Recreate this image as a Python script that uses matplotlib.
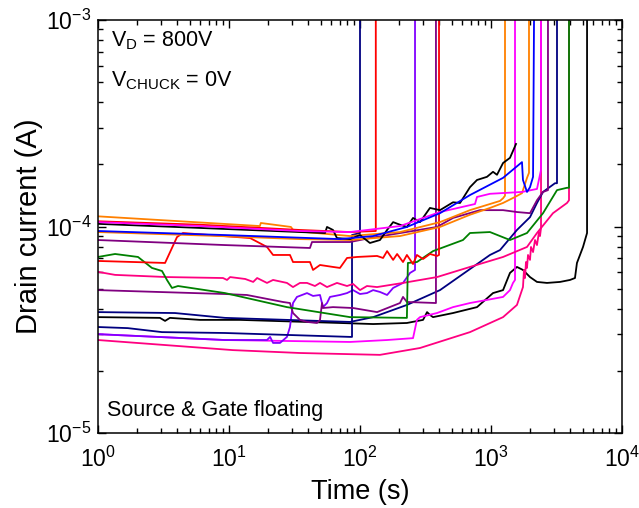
import matplotlib
matplotlib.use("Agg")
import matplotlib.pyplot as plt
from matplotlib.ticker import LogLocator, NullFormatter, LogFormatterSciNotation

plt.rcParams["font.family"] = ["Liberation Sans", "DejaVu Sans"]
plt.rcParams["mathtext.fontset"] = "custom"
plt.rcParams["mathtext.rm"] = "Liberation Sans"
plt.rcParams["mathtext.it"] = "Liberation Sans:italic"
plt.rcParams["mathtext.bf"] = "Liberation Sans:bold"

# ---- drain current traces (time in s, current in A); last point = breakdown ----
orange_a_t = [1, 17.2, 17.5, 29.7, 31.3, 83.9, 202, 408, 691, 1172, 1236, 1279, 1279]
orange_a_i = [1.12e-4, 1.005e-4, 1.04e-4, 9.95e-5, 9.51e-5, 8.99e-5, 9.40e-5, 1.05e-4,
              1.20e-4, 1.33e-4, 1.37e-4, 1.41e-4, 1e-3]

orange_b_t = [1, 8.53, 34.8, 83.9, 202, 408, 691, 982, 1236, 1525, 1724, 1883, 1950, 1950]
orange_b_i = [9.40e-5, 8.99e-5, 8.69e-5, 8.60e-5, 8.99e-5, 9.95e-5, 1.14e-4, 1.23e-4,
              1.30e-4, 1.39e-4, 1.45e-4, 1.72e-4, 1.82e-4, 1e-3]

red_top_t = [1, 6.01, 34.8, 83.9, 132, 132]
red_top_i = [1.06e-4, 1.02e-4, 9.62e-5, 9.40e-5, 9.51e-5, 1e-3]

magenta_top_t = [1, 6.01, 34.8, 83.9, 202, 408, 755, 782, 982, 1724, 2244, 2409, 2409]
magenta_top_i = [1.05e-4, 1.005e-4, 9.51e-5, 9.40e-5, 1.005e-4, 1.175e-4, 1.285e-4,
                 1.39e-4, 1.44e-4, 1.47e-4, 1.52e-4, 1.88e-4, 1e-3]

black_top_t = [1, 6.01, 34.8, 54.1, 56.0, 62.2, 66.7, 83.9, 100, 119, 142, 161, 179, 202,
               228, 254, 287, 342, 408, 513, 580, 691, 782, 932, 1036, 1111, 1236, 1396, 1552]
black_top_i = [1.03e-4, 9.84e-5, 9.40e-5, 9.30e-5, 9.95e-5, 9.62e-5, 8.79e-5, 8.69e-5,
               9.09e-5, 8.32e-5, 8.60e-5, 9.62e-5, 1.05e-4, 1.02e-4, 9.95e-5, 1.10e-4,
               1.05e-4, 1.23e-4, 1.20e-4, 1.31e-4, 1.30e-4, 1.55e-4, 1.68e-4, 1.74e-4,
               1.84e-4, 1.78e-4, 2.03e-4, 2.15e-4, 2.51e-4]

blue_t = [1, 9.32, 41.5, 70.3, 126, 228, 408, 691, 1236, 1724, 1754, 1883, 1985, 2094, 2130]
blue_i = [9.51e-5, 9.09e-5, 8.79e-5, 8.69e-5, 8.99e-5, 9.95e-5, 1.16e-4, 1.42e-4, 1.72e-4,
          2.05e-4, 1.68e-4, 1.47e-4, 1.55e-4, 1.74e-4, 1e-3]

purple_a_t = [1, 9.32, 41.5, 43.0, 83.9, 119, 387, 513, 824, 1236, 1578, 1985, 2244, 2495,
              2722, 2722]
purple_a_i = [8.60e-5, 8.13e-5, 7.87e-5, 8.41e-5, 8.41e-5, 8.79e-5, 9.95e-5, 1.10e-4,
              1.20e-4, 1.20e-4, 1.175e-4, 1.16e-4, 1.34e-4, 1.47e-4, 1.50e-4, 1e-3]

red_low_t = [1, 3.25, 4.01, 4.45, 14.5, 19.5, 21.7, 29.2, 30.8, 41.5, 43.8, 49.5, 62.2, 70.3,
             79.6, 94.9, 135, 150, 161, 179, 192, 213, 228, 254, 272, 303, 342, 387, 401, 401]
red_low_i = [6.81e-5, 6.66e-5, 8.89e-5, 9.30e-5, 8.79e-5, 7.96e-5, 7.28e-5, 7.28e-5,
             6.73e-5, 6.73e-5, 6.16e-5, 6.51e-5, 6.37e-5, 6.30e-5, 7.04e-5, 7.12e-5,
             7.20e-5, 7.04e-5, 7.60e-5, 6.89e-5, 7.36e-5, 6.73e-5, 7.28e-5, 6.58e-5,
             7.28e-5, 6.96e-5, 7.36e-5, 7.20e-5, 7.28e-5, 1e-3]

green_t = [1, 1.35, 2.02, 2.58, 3.08, 3.36, 3.67, 4.08, 9.32, 27.7, 83.9, 228, 232, 272,
           361, 611, 691, 982, 1396, 1883, 2495, 3190, 3803, 3940, 3940]
green_i = [7.12e-5, 7.36e-5, 7.12e-5, 6.30e-5, 6.09e-5, 5.51e-5, 5.04e-5, 5.15e-5,
           4.76e-5, 4.07e-5, 3.64e-5, 3.61e-5, 6.66e-5, 6.73e-5, 7.60e-5, 8.60e-5,
           9.30e-5, 9.40e-5, 8.60e-5, 9.30e-5, 1.16e-4, 1.50e-4, 1.54e-4, 1.54e-4, 1e-3]

pink_a_t = [1, 1.35, 3.36, 9.0, 9.66, 10.2, 13.3, 15.3, 16.4, 19.5, 21.7, 27.7, 30.8, 34.8,
            39.4, 45.3, 49.5, 56.0, 66.7, 79.6, 88.5, 100, 113, 135, 213, 387, 691, 1236,
            1883, 2244, 2972, 3803, 3940, 3940]
pink_a_i = [6.03e-5, 5.83e-5, 5.69e-5, 5.63e-5, 5.51e-5, 5.69e-5, 5.57e-5, 5.39e-5,
            5.63e-5, 5.33e-5, 5.51e-5, 5.33e-5, 5.09e-5, 5.33e-5, 5.33e-5, 5.15e-5,
            5.33e-5, 5.09e-5, 5.33e-5, 5.15e-5, 5.27e-5, 4.92e-5, 5.15e-5, 5.09e-5,
            5.33e-5, 5.69e-5, 6.37e-5, 7.12e-5, 7.96e-5, 9.30e-5, 1.16e-4, 1.30e-4,
            1.34e-4, 1e-3]

purple_b_t = [1, 9.32, 13.7, 25.8, 29.2, 30.8, 34.8, 39.4, 47.0, 49.5, 51.3, 52.2, 62.2,
              88.5, 135, 202, 213, 228, 380, 380]
purple_b_i = [4.92e-5, 4.71e-5, 4.66e-5, 4.31e-5, 4.26e-5, 3.81e-5, 3.53e-5, 3.45e-5,
              3.41e-5, 3.53e-5, 4.26e-5, 4.03e-5, 4.07e-5, 4.03e-5, 3.85e-5, 4.26e-5,
              4.56e-5, 4.31e-5, 4.26e-5, 1e-3]

violet_t = [1, 9.32, 19.5, 20.6, 21.7, 24.5, 27.7, 29.2, 30.8, 33.0, 39.4, 43.8, 49.5, 52.2,
            56.0, 59.0, 70.3, 79.6, 88.5, 100, 113, 126, 142, 161, 179, 213, 241, 263, 263]
violet_i = [3.01e-5, 2.82e-5, 2.82e-5, 2.92e-5, 2.73e-5, 2.73e-5, 2.92e-5, 3.26e-5,
            4.26e-5, 4.56e-5, 4.76e-5, 4.61e-5, 4.66e-5, 4.07e-5, 4.26e-5, 4.56e-5,
            4.66e-5, 4.76e-5, 4.92e-5, 4.71e-5, 4.76e-5, 4.92e-5, 4.82e-5, 4.66e-5,
            5.04e-5, 5.33e-5, 5.96e-5, 6.16e-5, 1e-3]

magenta_low_t = [1, 9.32, 83.9, 161, 254, 272, 287, 387, 513, 691, 932, 1236, 1396, 1472,
                 1525, 1525]
magenta_low_i = [3.01e-5, 2.82e-5, 2.76e-5, 2.82e-5, 2.88e-5, 3.53e-5, 3.64e-5, 3.81e-5,
                 4.07e-5, 4.26e-5, 4.41e-5, 4.56e-5, 4.92e-5, 5.33e-5, 5.51e-5, 1e-3]

pink_b_t = [1, 10.7, 34.8, 142, 287, 691, 1236, 1578, 1754, 1786, 1818, 1849, 1883, 1916,
            1985, 2019, 2094, 2168, 2244, 2323, 2366, 2409, 2409]
pink_b_i = [2.82e-5, 2.52e-5, 2.44e-5, 2.39e-5, 2.58e-5, 3.08e-5, 3.64e-5, 4.17e-5,
            5.09e-5, 6.16e-5, 5.63e-5, 6.73e-5, 6.30e-5, 7.28e-5, 6.89e-5, 7.96e-5,
            7.52e-5, 8.60e-5, 8.13e-5, 9.40e-5, 8.99e-5, 9.84e-5, 1e-3]

navy_b_t = [1, 3.87, 9.32, 83.9, 126, 228, 408, 824, 982, 1172, 1578, 1985, 2244, 2495,
            3080, 3190, 3190]
navy_b_i = [3.85e-5, 3.81e-5, 3.61e-5, 3.45e-5, 3.64e-5, 4.17e-5, 4.92e-5, 6.73e-5,
            7.28e-5, 7.69e-5, 9.62e-5, 1.11e-4, 1.30e-4, 1.47e-4, 1.62e-4, 1.62e-4, 1e-3]

navy_c_t = [1, 1.69, 3.08, 9.32, 83.9, 86.9, 86.9, 100, 100]
navy_c_i = [3.26e-5, 3.22e-5, 3.08e-5, 3.05e-5, 2.92e-5, 2.92e-5, 9.09e-5, 9.30e-5, 1e-3]

black_low_t = [1, 2.97, 3.25, 3.54, 6.01, 12.1, 70.3, 126, 228, 303, 325, 342, 361, 513,
               782, 1036, 1236, 1396, 1578, 1754, 1985, 2244, 2675, 3365, 4010, 4375,
               4530, 5040, 5410, 5410]
black_low_i = [3.64e-5, 3.61e-5, 3.49e-5, 3.61e-5, 3.53e-5, 3.53e-5, 3.41e-5, 3.37e-5,
               3.41e-5, 3.53e-5, 3.85e-5, 3.73e-5, 3.64e-5, 3.81e-5, 4.07e-5, 4.76e-5,
               4.92e-5, 5.96e-5, 6.37e-5, 6.16e-5, 5.69e-5, 5.39e-5, 5.33e-5, 5.39e-5,
               5.51e-5, 5.63e-5, 6.66e-5, 7.96e-5, 9.30e-5, 1e-3]

traces = [
    (black_low_t, black_low_i, "#000000"),
    (pink_b_t, pink_b_i, "#FF0080"),
    (magenta_low_t, magenta_low_i, "#FF00FF"),
    (violet_t, violet_i, "#8000FF"),
    (navy_c_t, navy_c_i, "#000080"),
    (navy_b_t, navy_b_i, "#000080"),
    (purple_b_t, purple_b_i, "#800080"),
    (pink_a_t, pink_a_i, "#FF0080"),
    (green_t, green_i, "#008000"),
    (red_low_t, red_low_i, "#FF0000"),
    (purple_a_t, purple_a_i, "#800080"),
    (orange_b_t, orange_b_i, "#FF8000"),
    (orange_a_t, orange_a_i, "#FF8000"),
    (black_top_t, black_top_i, "#000000"),
    (red_top_t, red_top_i, "#FF0000"),
    (magenta_top_t, magenta_top_i, "#FF00FF"),
    (blue_t, blue_i, "#0000FF"),
]

fig = plt.figure(figsize=(6.39, 5.08), dpi=100)
ax = fig.add_axes([98 / 639, 75 / 508, 524 / 639, 413 / 508])

for t, i, c in traces:
    ax.plot(t, i, color=c, lw=1.3)

ax.set_xscale("log")
ax.set_yscale("log")
ax.set_xlim(1, 1e4)
ax.set_ylim(1e-5, 1e-3)

for axis in (ax.xaxis, ax.yaxis):
    axis.set_major_locator(LogLocator(base=10, numticks=10))
    axis.set_minor_locator(LogLocator(base=10, subs=range(2, 10), numticks=20))
    axis.set_minor_formatter(NullFormatter())
    axis.set_major_formatter(LogFormatterSciNotation())

ax.tick_params(which="both", direction="in", top=True, right=True, width=1.0,
               labelsize=16.5)
ax.tick_params(which="major", length=6)
ax.tick_params(which="minor", length=3.5)
ax.tick_params(axis="x", which="major", pad=10)
ax.tick_params(axis="y", which="major", pad=5)
for s in ax.spines.values():
    s.set_linewidth(1.1)

ax.set_xlabel("Time (s)", fontsize=19.5, labelpad=5)
ax.set_ylabel("Drain current (A)", fontsize=21, labelpad=2)

ax.text(0.025, 0.935, r"V$_\mathregular{D}$ = 800V", transform=ax.transAxes,
        fontsize=15.5, va="baseline")
ax.text(0.025, 0.84, r"V$_\mathregular{CHUCK}$ = 0V", transform=ax.transAxes,
        fontsize=15.5, va="baseline")
ax.text(0.017, 0.04, "Source & Gate floating", transform=ax.transAxes,
        fontsize=15.5, va="baseline")

fig.savefig("out.png", dpi=100)
